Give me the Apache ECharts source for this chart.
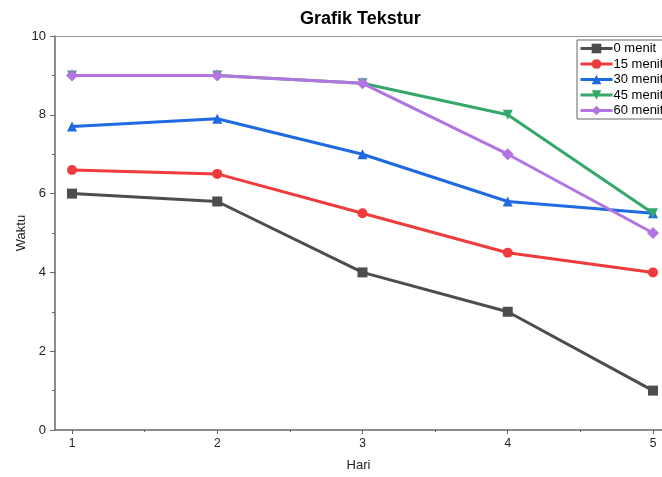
<!DOCTYPE html>
<html><head><meta charset="utf-8">
<script src="https://cdn.jsdelivr.net/npm/echarts@6/dist/echarts.min.js"></script>
<style>html,body{margin:0;padding:0;background:#fff}#c{width:662px;height:477px}</style>
</head><body><div id="c"></div>
<script>
const days = [1, 2, 3, 4, 5];
const seriesNames = ['0 menit', '15 menit', '30 menit', '45 menit', '60 menit'];
const s0 = [6.0, 5.8, 4.0, 3.0, 1.0];
const s15 = [6.6, 6.5, 5.5, 4.5, 4.0];
const s30 = [7.7, 7.9, 7.0, 5.8, 5.5];
const s45 = [9.0, 9.0, 8.8, 8.0, 5.5];
const s60 = [9.0, 9.0, 8.8, 7.0, 5.0];
const yTicks = [0, 2, 4, 6, 8, 10];

const colors = ['#4d4d4d', '#ef3b3b', '#1f6ae0', '#33a86a', '#b274e2'];
const symbols = ['rect', 'circle', 'triangle', 'triangle', 'diamond'];
const rotates = [0, 0, 0, 180, 0];
const values = [s0, s15, s30, s45, s60];

const X_MIN = 0.883, X_MAX = 5.062;
const chart = echarts.init(document.getElementById('c'), null, {renderer: 'canvas'});
const font = 'Liberation Sans, Arial, sans-serif';
chart.setOption({
  animation: false,
  textStyle: {fontFamily: font},
  title: {text: 'Grafik Tekstur', left: 295, top: 5,
    textStyle: {fontSize: 18, fontWeight: 'bold', color: '#000', fontFamily: font}},
  grid: {left: 55, right: 0, top: 36, bottom: 46},
  legend: {
    orient: 'vertical', left: 577, top: 40,
    data: seriesNames,
    itemWidth: 32, itemHeight: 12, itemGap: 2.5,
    padding: [2, 6, 2, 2],
    borderColor: '#666', borderWidth: 1, backgroundColor: '#fff',
    lineStyle: {width: 3},
    textStyle: {fontSize: 13, lineHeight: 13, color: '#000', fontFamily: font, padding: [0, 0, 0, -4]}
  },
  xAxis: [{
    type: 'value', min: X_MIN, max: X_MAX,
    name: 'Hari', nameLocation: 'middle', nameGap: 29,
    nameTextStyle: {fontSize: 13, color: '#222', fontFamily: font},
    axisLine: {show: true, lineStyle: {color: '#666', width: 1.5}},
    axisTick: {show: true, length: 4, customValues: days, lineStyle: {color: '#666'}},
    axisLabel: {fontSize: 12, color: '#222', margin: 8, customValues: days},
    splitLine: {show: false}
  }, {
    type: 'value', min: X_MIN, max: X_MAX, position: 'bottom',
    axisLine: {show: false},
    axisTick: {show: true, length: 2, customValues: [1.5, 2.5, 3.5, 4.5], lineStyle: {color: '#666'}},
    axisLabel: {show: false},
    splitLine: {show: false}
  }, {
    type: 'value', min: X_MIN, max: X_MAX, position: 'top',
    axisLine: {show: true, lineStyle: {color: '#999', width: 1}},
    axisTick: {show: false}, axisLabel: {show: false}, splitLine: {show: false}
  }],
  yAxis: {
    type: 'value', min: 0, max: 10, interval: 2,
    name: 'Waktu', nameLocation: 'middle', nameGap: 27, nameRotate: 90,
    nameMoveOverlap: false,
    nameTextStyle: {fontSize: 13, color: '#222', fontFamily: font},
    axisLine: {show: true, lineStyle: {color: '#666', width: 1.5}},
    axisTick: {show: true, length: 5, lineStyle: {color: '#666'}},
    minorTick: {show: true, splitNumber: 2, length: 3, lineStyle: {color: '#666'}},
    axisLabel: {fontSize: 13, color: '#222', margin: 9},
    splitLine: {show: false}
  },
  series: seriesNames.map((n, i) => ({
    name: n, type: 'line', xAxisIndex: 0,
    data: days.map((d, j) => [d, values[i][j]]),
    symbol: symbols[i], symbolRotate: rotates[i],
    symbolSize: symbols[i] === 'diamond' ? 12 : 10,
    lineStyle: {width: 3, color: colors[i]},
    itemStyle: {color: colors[i]},
    showSymbol: true
  }))
});
</script></body></html>
